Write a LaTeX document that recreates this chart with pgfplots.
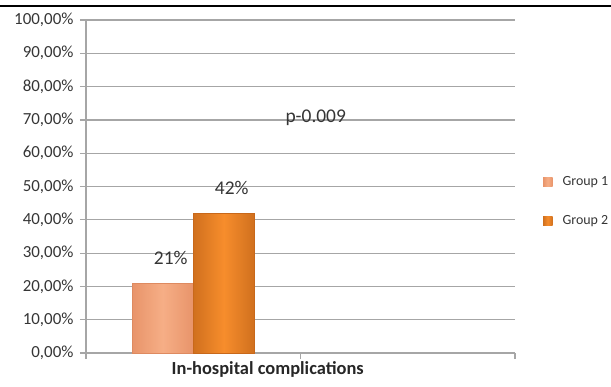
\documentclass[border=0pt]{standalone}
\usepackage{pgfplots}
\pgfplotsset{compat=1.18}
\usepackage{fontspec}
\setmainfont{Carlito}
\definecolor{txt}{HTML}{353535}
\definecolor{gridc}{HTML}{A6A6A6}
\definecolor{gOneL}{HTML}{E8946A}
\definecolor{gOneM}{HTML}{F6AE86}
\definecolor{gOneD}{HTML}{DE8A60}
\definecolor{gTwoL}{HTML}{D0701E}
\definecolor{gTwoM}{HTML}{F78D2C}
\definecolor{gTwoD}{HTML}{C8681A}
\begin{document}
\begin{tikzpicture}
\useasboundingbox (0,0) rectangle (611bp,-387bp);
\draw[black, line width=1.3bp] (0,-6bp) -- (611bp,-6bp);
\begin{axis}[
  at={(86bp,-353bp)}, anchor=south west,
  scale only axis, width=429bp, height=333bp,
  ybar=0pt, bar width=61bp,
  xmin=-0.5, xmax=1.5, ymin=0, ymax=100,
  axis x line=bottom, axis y line=left,
  axis line style={gridc, line width=1.2bp, -},
  xtick={-0.5,0.5,1.5}, xticklabels={},
  ytick={0,10,...,100},
  yticklabels={{0,00\%},{10,00\%},{20,00\%},{30,00\%},{40,00\%},{50,00\%},{60,00\%},{70,00\%},{80,00\%},{90,00\%},{100,00\%}},
  tick align=outside, major tick length=6bp,
  tick style={gridc, line width=1.2bp},
  ymajorgrids, grid style={gridc, line width=1.2bp},
  /pgf/number format/assume math mode=true,
  yticklabel style={font=\fontsize{17}{20}\selectfont, text=txt, xshift=-3bp},
  nodes near coords={\pgfmathprintnumber[fixed,precision=0]{\pgfplotspointmeta}\%},
  nodes near coords style={font=\fontsize{19.5}{22}\selectfont, text=txt, anchor=center, yshift=25bp, xshift=8bp},
  legend image code/.code={\draw[#1, draw=none] (0bp,-4.5bp) rectangle (9.5bp,4.5bp);},
  legend style={draw=none, fill=none, at={(1.058,0.455)}, anchor=west,
    font=\fontsize{14}{17}\selectfont, text=txt, row sep=22bp,
    nodes={inner sep=3bp},
    /tikz/every odd column/.append style={column sep=7bp}},
  legend cell align=left,
  clip=false,
]
\addplot[draw=gOneD, left color=gOneL, right color=gOneL, middle color=gOneM] coordinates {(0,21)};
\addplot[draw=gTwoD, left color=gTwoL, right color=gTwoL, middle color=gTwoM] coordinates {(0,42)};
\legend{Group 1, Group 2}
\node[font=\fontsize{19.5}{22}\selectfont, text=txt] at (axis cs:0.571,70.6) {p-0.009};
\node[font=\bfseries\fontsize{18.5}{22}\selectfont, text=black!85] at (axis cs:0.347,0) [yshift=-16bp] {In-hospital complications};
\end{axis}
\end{tikzpicture}
\end{document}
